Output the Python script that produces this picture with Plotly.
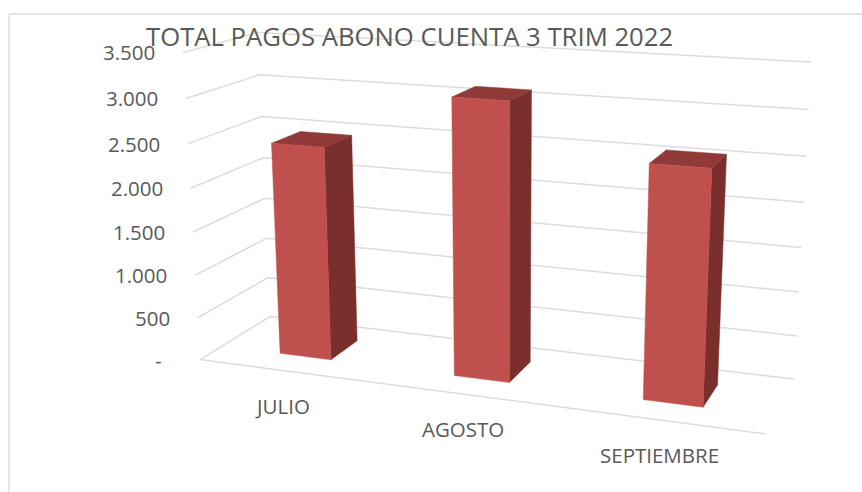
import numpy as np
import plotly.graph_objects as go

# data
meses = ['JULIO', 'AGOSTO', 'SEPTIEMBRE']
totales = [2460, 3110, 2560]
ticks = [0, 500, 1000, 1500, 2000, 2500, 3000, 3500]
tick_labels = ['-\u00a0\u00a0', '500', '1.000', '1.500', '2.000', '2.500', '3.000', '3.500']
titulo = 'TOTAL PAGOS ABONO CUENTA 3 TRIM 2022'

W, H = 862, 492
Z_MAX = 3500
BAR_W = 0.1      # bar width, share of the category axis
BAR_Y = (0.30, 0.72)  # bar depth inside the box

GRID = '#dcdcdc'
TEXT = '#595959'
FRONT = '#c0504d'
TOP = '#8f3a38'
SIDE = '#7b2f2d'

# box corners (x 0-1, depth 0-1, z 0-1) and where they sit on the page
corners = [
    ((0, 0, 0), (200, 359)), ((1, 0, 0), (766, 434)),
    ((0, 1, 0), (270, 317)), ((1, 1, 0), (794, 379)),
    ((0, 0, 1), (183, 53)), ((0, 1, 1), (258, 32)), ((1, 1, 1), (811, 62)),
]


def _fit_camera(pairs):
    """Solve the 3x4 projection matrix of the box from its corners."""
    rows = []
    for (x, y, z), (u, v) in pairs:
        p = [x, y, z, 1]
        rows.append(p + [0, 0, 0, 0] + [-u * c for c in p])
        rows.append([0, 0, 0, 0] + p + [-v * c for c in p])
    return np.linalg.svd(np.array(rows, dtype=float))[2][-1].reshape(3, 4)


CAM = _fit_camera(corners)


def proj(x, y, value):
    u, v, w = CAM @ np.array([x, y, value / Z_MAX, 1.0])
    return u / w, v / w


def path(points):
    xy = [proj(*p) for p in points]
    return [p[0] for p in xy], [p[1] for p in xy]


def add_line(fig, points):
    xs, ys = path(points)
    fig.add_trace(go.Scatter(x=xs, y=ys, mode='lines', hoverinfo='skip',
                             line=dict(color=GRID, width=1.5)))


def add_face(fig, points, color):
    xs, ys = path(points + points[:1])
    fig.add_trace(go.Scatter(x=xs, y=ys, mode='lines', fill='toself', fillcolor=color,
                             hoverinfo='skip', line=dict(color=color, width=0.5)))


fig = go.Figure()

# grid on the left and back walls
for t in ticks:
    add_line(fig, [(0, 0, t), (0, 1, t), (1, 1, t)])
add_line(fig, [(0, 0, 0), (1, 0, 0)])

# bars
y0, y1 = BAR_Y
for i, val in enumerate(totales):
    c = (i + 0.5) / len(meses)
    x0, x1 = c - BAR_W / 2, c + BAR_W / 2
    add_face(fig, [(x1, y0, 0), (x1, y1, 0), (x1, y1, val), (x1, y0, val)], SIDE)
    add_face(fig, [(x0, y0, val), (x1, y0, val), (x1, y1, val), (x0, y1, val)], TOP)
    add_face(fig, [(x0, y0, 0), (x1, y0, 0), (x1, y0, val), (x0, y0, val)], FRONT)

# value axis labels
for t, lab in zip(ticks, tick_labels):
    px, py = proj(0, 0, t)
    fig.add_annotation(x=px, y=py, text=lab, showarrow=False, xanchor='right', xshift=-26,
                       font=dict(size=20.5, color=TEXT))

# category labels
for i, mes in enumerate(meses):
    px, py = proj((i + 0.5) / len(meses), 0, 0)
    fig.add_annotation(x=px, y=py, text=mes, showarrow=False, xshift=-2, yshift=-35,
                       font=dict(size=20.5, color=TEXT))

fig.add_annotation(x=409, y=36, text=titulo, showarrow=False, font=dict(size=25.7, color=TEXT))

# chart frame, open at the right and bottom of the page
fig.add_shape(type='line', x0=9, x1=9, y0=14, y1=H, line=dict(color=GRID, width=1.5))
fig.add_shape(type='line', x0=9, x1=W, y0=14, y1=14, line=dict(color=GRID, width=1.5))

fig.update_layout(
    width=W, height=H,
    margin=dict(l=0, r=0, t=0, b=0),
    showlegend=False,
    paper_bgcolor='white', plot_bgcolor='white',
    font=dict(family='Open Sans'),
    xaxis=dict(range=[0, W], visible=False),
    yaxis=dict(range=[H, 0], visible=False),
)
fig.write_html('out.html', post_script="document.body.style.margin='0';",
               config=dict(displayModeBar=False))
